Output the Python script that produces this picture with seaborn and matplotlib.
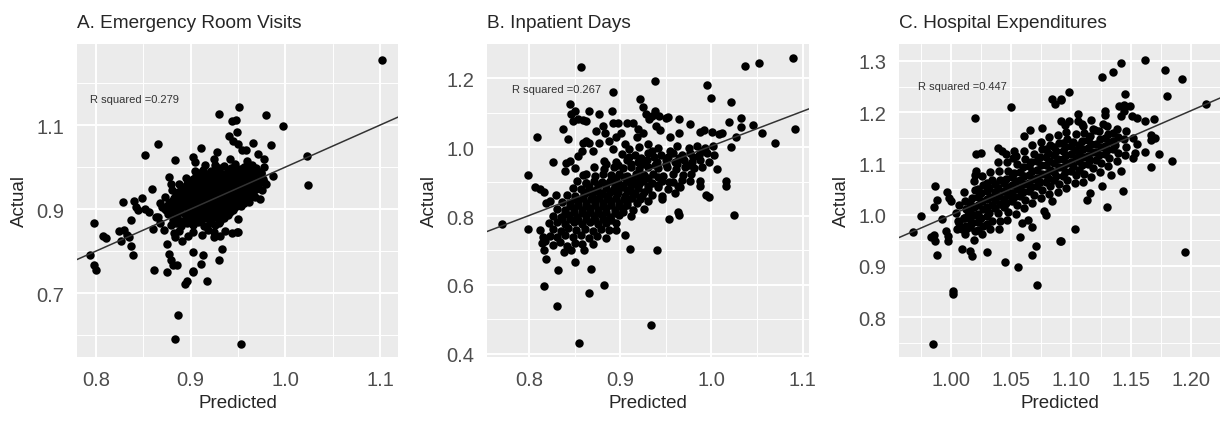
import pandas as pd
import seaborn as sns
import matplotlib.pyplot as plt
from matplotlib.ticker import FixedLocator, FormatStrFormatter

# Panel A: Emergency Room Visits (predicted, actual)
er_points = [
    (0.798, 0.867), (0.807, 0.837), (0.811, 0.832), (0.794, 0.790), (0.798, 0.766), (0.800, 0.756),
    (0.824, 0.849), (0.830, 0.851), (0.826, 0.824), (0.829, 0.917), (0.833, 0.839), (0.835, 0.833),
    (0.837, 0.813), (0.839, 0.791), (0.837, 0.873), (0.840, 0.920), (0.842, 0.905), (0.844, 0.897),
    (0.849, 0.927), (0.852, 0.901), (0.856, 0.893), (0.859, 0.947), (0.861, 0.756), (0.866, 1.055),
    (0.852, 1.029), (0.863, 0.881), (0.860, 0.853), (0.870, 0.905), (0.874, 0.897), (0.875, 0.817),
    (0.877, 0.793), (0.879, 0.778), (0.881, 0.766), (0.875, 0.750), (0.883, 1.018), (0.877, 0.976),
    (0.879, 0.960), (0.886, 0.766), (0.887, 0.649), (0.883, 0.591), (0.894, 0.722), (0.896, 0.730),
    (0.902, 0.750), (0.903, 0.797), (0.911, 0.770), (0.917, 0.728), (0.911, 1.046), (0.902, 1.024),
    (0.905, 1.012), (0.930, 1.127), (0.928, 1.036), (0.944, 1.109), (0.940, 1.075), (0.945, 1.063),
    (0.951, 1.143), (0.933, 0.805), (0.930, 0.778), (0.944, 0.843), (0.949, 0.845), (0.931, 0.837),
    (0.891, 0.825), (0.884, 0.833), (0.913, 0.790), (0.925, 0.833), (0.903, 0.753),
    (1.102, 1.256), (0.948, 1.111), (0.949, 1.083), (0.980, 1.125), (0.998, 1.099), (0.985, 1.052),
    (1.023, 1.026), (1.024, 0.958), (0.987, 0.980), (0.978, 1.020), (0.966, 1.057), (0.971, 1.032),
    (0.954, 1.040), (0.958, 1.041), (0.950, 1.056), (0.973, 0.924), (0.977, 0.964), (0.950, 0.877),
    (0.950, 0.845), (0.953, 0.579),
    # dense core
    (0.926, 1.006), (0.935, 1.003), (0.947, 1.008), (0.956, 1.001), (0.965, 1.004),
    (0.913, 0.993), (0.921, 0.990), (0.930, 0.994), (0.939, 0.989), (0.948, 0.993), (0.957, 0.990),
    (0.966, 0.994), (0.973, 0.989),
    (0.906, 0.979), (0.914, 0.976), (0.922, 0.980), (0.931, 0.977), (0.939, 0.979), (0.947, 0.976),
    (0.955, 0.980), (0.962, 0.977), (0.970, 0.979),
    (0.899, 0.966), (0.907, 0.963), (0.915, 0.967), (0.923, 0.964), (0.932, 0.966), (0.940, 0.963),
    (0.948, 0.967), (0.956, 0.964), (0.964, 0.966), (0.972, 0.962),
    (0.893, 0.953), (0.901, 0.950), (0.909, 0.954), (0.917, 0.951), (0.925, 0.953), (0.933, 0.950),
    (0.941, 0.954), (0.949, 0.951), (0.957, 0.953), (0.965, 0.950), (0.971, 0.954),
    (0.887, 0.940), (0.895, 0.937), (0.903, 0.941), (0.911, 0.938), (0.919, 0.940), (0.927, 0.937),
    (0.935, 0.941), (0.943, 0.938), (0.951, 0.940), (0.959, 0.937), (0.966, 0.941),
    (0.882, 0.927), (0.890, 0.924), (0.898, 0.928), (0.906, 0.925), (0.914, 0.927), (0.922, 0.924),
    (0.930, 0.928), (0.938, 0.925), (0.946, 0.927), (0.954, 0.924), (0.961, 0.928),
    (0.877, 0.914), (0.885, 0.911), (0.893, 0.915), (0.901, 0.912), (0.909, 0.914), (0.917, 0.911),
    (0.925, 0.915), (0.933, 0.912), (0.941, 0.914), (0.949, 0.911), (0.956, 0.915),
    (0.873, 0.901), (0.881, 0.898), (0.889, 0.902), (0.897, 0.899), (0.905, 0.901), (0.913, 0.898),
    (0.921, 0.902), (0.929, 0.899), (0.937, 0.901), (0.945, 0.898),
    (0.876, 0.888), (0.885, 0.885), (0.894, 0.889), (0.903, 0.886), (0.912, 0.888), (0.921, 0.885),
    (0.930, 0.889), (0.939, 0.886),
    (0.881, 0.875), (0.891, 0.872), (0.901, 0.876), (0.911, 0.873), (0.921, 0.875), (0.931, 0.872),
    (0.879, 0.862), (0.890, 0.859), (0.902, 0.863), (0.914, 0.860), (0.926, 0.862),
    (0.888, 0.849), (0.903, 0.846), (0.918, 0.850), (0.936, 0.847),
    (0.866, 0.882), (0.868, 0.866), (0.872, 0.850), (0.882, 0.842), (0.897, 0.836), (0.912, 0.838),
    (0.925, 0.845), (0.962, 0.918), (0.968, 0.930), (0.975, 0.945), (0.980, 0.960), (0.974, 0.985),
    (0.978, 1.000), (0.960, 1.015), (0.942, 1.020), (0.925, 1.020), (0.915, 1.005), (0.905, 0.990),
    (0.895, 0.975), (0.888, 0.960), (0.880, 0.945), (0.873, 0.930), (0.868, 0.915),
    (0.930, 0.997), (0.943, 0.998), (0.952, 0.996), (0.961, 0.998), (0.969, 0.997),
    (0.910, 0.985), (0.918, 0.984), (0.926, 0.986), (0.935, 0.984), (0.943, 0.986), (0.951, 0.984),
    (0.959, 0.986), (0.966, 0.984), (0.974, 0.986),
    (0.903, 0.972), (0.911, 0.971), (0.919, 0.973), (0.927, 0.971), (0.936, 0.973), (0.944, 0.971),
    (0.952, 0.973), (0.960, 0.971), (0.968, 0.973), (0.976, 0.971),
    (0.896, 0.959), (0.905, 0.958), (0.913, 0.960), (0.921, 0.958), (0.929, 0.960), (0.937, 0.958),
    (0.945, 0.960), (0.953, 0.958), (0.961, 0.960), (0.969, 0.958),
    (0.890, 0.946), (0.898, 0.945), (0.906, 0.947), (0.914, 0.945), (0.922, 0.947), (0.930, 0.945),
    (0.938, 0.947), (0.946, 0.945), (0.954, 0.947), (0.962, 0.945), (0.969, 0.947),
    (0.885, 0.933), (0.893, 0.932), (0.901, 0.934), (0.909, 0.932), (0.917, 0.934), (0.925, 0.932),
    (0.933, 0.934), (0.941, 0.932), (0.949, 0.934), (0.957, 0.932), (0.964, 0.934),
    (0.880, 0.920), (0.888, 0.919), (0.896, 0.921), (0.904, 0.919), (0.912, 0.921), (0.920, 0.919),
    (0.928, 0.921), (0.936, 0.919), (0.944, 0.921), (0.952, 0.919), (0.959, 0.921),
    (0.875, 0.907), (0.883, 0.906), (0.891, 0.908), (0.899, 0.906), (0.907, 0.908), (0.915, 0.906),
    (0.923, 0.908), (0.931, 0.906), (0.939, 0.908), (0.947, 0.906), (0.953, 0.908),
    (0.880, 0.894), (0.889, 0.893), (0.898, 0.895), (0.907, 0.893), (0.916, 0.895), (0.925, 0.893),
    (0.934, 0.895), (0.942, 0.893),
    (0.886, 0.881), (0.896, 0.880), (0.906, 0.882), (0.916, 0.880), (0.926, 0.882), (0.935, 0.880),
    (0.885, 0.868), (0.896, 0.867), (0.908, 0.869), (0.920, 0.867), (0.930, 0.868),
]

# Panel B: Inpatient Days
ip_points = [
    (0.857, 1.232), (0.770, 0.776), (0.799, 0.762), (0.799, 0.918), (0.809, 1.030), (0.807, 0.884),
    (0.812, 0.877), (0.817, 0.870), (0.826, 0.956), (0.819, 0.838), (0.823, 0.843), (0.812, 0.760),
    (0.815, 0.740), (0.814, 0.721), (0.817, 0.701), (0.819, 0.674), (0.817, 0.597), (0.832, 0.643),
    (0.831, 0.538), (0.851, 0.667), (0.855, 0.431), (0.866, 0.577), (0.868, 0.645), (0.882, 0.599),
    (0.911, 0.704), (0.934, 0.484), (0.845, 1.125), (0.837, 1.052), (0.843, 1.023), (0.848, 1.076),
    (0.854, 1.081), (0.859, 1.079), (0.863, 1.076), (0.850, 1.106), (0.846, 1.096), (0.866, 1.106),
    (0.877, 1.096), (0.881, 1.062), (0.874, 1.047), (0.866, 1.013), (0.859, 1.013), (0.863, 1.018),
    (0.877, 1.013), (0.892, 1.159), (0.891, 1.106), (0.892, 1.071), (0.898, 1.071), (0.901, 1.042),
    (0.888, 1.018), (0.892, 0.994), (0.922, 1.140), (0.925, 1.115), (0.908, 1.071), (0.914, 1.071),
    (0.919, 1.052), (0.925, 1.042), (0.928, 1.096), (0.932, 1.081), (0.845, 0.959), (0.841, 0.955),
    (0.859, 0.920), (0.863, 0.896), (0.830, 0.862), (0.854, 0.974),
    (1.089, 1.259), (1.037, 1.234), (1.052, 1.244), (0.995, 1.180), (1.000, 1.142), (1.022, 1.130),
    (0.938, 1.193), (1.092, 1.052), (1.070, 1.011), (1.055, 1.040), (1.046, 1.064), (1.033, 1.083),
    (1.032, 1.057), (1.019, 1.074), (1.027, 1.029), (1.021, 1.001), (1.025, 0.804), (1.016, 0.901),
    (1.016, 0.888), (1.006, 0.935), (0.994, 0.862), (0.997, 0.855), (0.988, 0.888), (1.012, 1.042),
    (1.008, 1.037), (1.001, 1.044), (0.992, 1.050), (0.987, 1.044), (0.976, 1.068), (0.965, 1.081),
    (0.950, 1.083), (0.952, 1.086), (0.943, 1.091), (0.935, 1.089), (0.938, 1.106), (0.939, 1.062),
    (0.953, 0.791), (0.963, 0.813), (0.965, 0.803), (0.940, 0.701), (0.946, 0.849), (0.960, 0.867),
    (0.954, 0.898), (0.963, 0.888), (0.966, 0.884), (0.987, 0.901), (0.976, 0.901),
    (0.818, 0.728), (0.826, 0.716), (0.834, 0.724), (0.842, 0.712), (0.850, 0.722), (0.858, 0.718),
    (0.838, 0.695), (0.846, 0.700), (0.875, 0.742), (0.885, 0.735), (0.895, 0.760), (0.905, 0.745),
    (0.870, 0.720), (0.860, 0.700),
    (0.870, 0.990), (0.883, 1.040), (0.895, 1.030), (0.905, 1.010), (0.918, 1.030), (0.930, 1.010),
    (0.944, 1.050), (0.955, 1.030), (0.965, 1.040), (0.858, 0.990), (0.850, 0.940), (0.840, 0.930),
    # dense band
    (0.823, 0.742), (0.831, 0.738), (0.839, 0.745), (0.848, 0.739), (0.857, 0.744), (0.866, 0.737),
    (0.826, 0.761), (0.835, 0.757), (0.843, 0.764), (0.852, 0.758), (0.861, 0.763), (0.870, 0.756),
    (0.879, 0.762), (0.888, 0.758),
    (0.822, 0.779), (0.831, 0.783), (0.840, 0.777), (0.849, 0.782), (0.858, 0.778), (0.867, 0.784),
    (0.876, 0.777), (0.885, 0.781), (0.895, 0.779),
    (0.826, 0.801), (0.835, 0.797), (0.844, 0.803), (0.853, 0.798), (0.862, 0.804), (0.871, 0.799),
    (0.880, 0.802), (0.889, 0.797), (0.899, 0.803), (0.912, 0.799),
    (0.831, 0.821), (0.840, 0.817), (0.849, 0.823), (0.858, 0.818), (0.867, 0.822), (0.876, 0.817),
    (0.885, 0.823), (0.894, 0.818), (0.903, 0.822), (0.914, 0.817), (0.926, 0.821),
    (0.836, 0.841), (0.845, 0.837), (0.854, 0.843), (0.863, 0.838), (0.872, 0.842), (0.881, 0.837),
    (0.890, 0.843), (0.899, 0.838), (0.908, 0.842), (0.918, 0.837), (0.930, 0.843),
    (0.842, 0.861), (0.851, 0.857), (0.860, 0.863), (0.869, 0.858), (0.878, 0.862), (0.887, 0.857),
    (0.896, 0.863), (0.905, 0.858), (0.914, 0.862), (0.924, 0.857), (0.935, 0.862), (0.946, 0.858),
    (0.848, 0.881), (0.857, 0.877), (0.866, 0.883), (0.875, 0.878), (0.884, 0.882), (0.893, 0.877),
    (0.902, 0.883), (0.911, 0.878), (0.920, 0.882), (0.930, 0.877), (0.941, 0.883), (0.952, 0.879),
    (0.853, 0.901), (0.862, 0.897), (0.871, 0.903), (0.880, 0.898), (0.889, 0.902), (0.898, 0.897),
    (0.907, 0.903), (0.916, 0.898), (0.925, 0.902), (0.935, 0.897), (0.946, 0.903), (0.958, 0.899),
    (0.968, 0.904),
    (0.862, 0.921), (0.872, 0.917), (0.881, 0.923), (0.890, 0.918), (0.899, 0.922), (0.908, 0.917),
    (0.917, 0.923), (0.926, 0.918), (0.936, 0.922), (0.947, 0.917), (0.958, 0.923), (0.969, 0.918),
    (0.978, 0.922),
    (0.871, 0.941), (0.882, 0.937), (0.893, 0.943), (0.903, 0.938), (0.912, 0.942), (0.921, 0.937),
    (0.931, 0.943), (0.941, 0.938), (0.951, 0.942), (0.961, 0.937), (0.971, 0.943), (0.981, 0.938),
    (0.990, 0.942),
    (0.882, 0.961), (0.895, 0.957), (0.908, 0.963), (0.919, 0.958), (0.929, 0.962), (0.940, 0.957),
    (0.950, 0.963), (0.960, 0.958), (0.970, 0.962), (0.979, 0.957), (0.988, 0.963), (0.997, 0.958),
    (0.902, 0.981), (0.916, 0.977), (0.931, 0.983), (0.945, 0.978), (0.958, 0.982), (0.968, 0.977),
    (0.977, 0.983), (0.986, 0.978), (0.995, 0.982), (1.003, 0.977),
    (0.921, 1.001), (0.941, 0.997), (0.962, 1.003), (0.975, 0.998), (0.984, 1.002), (0.993, 0.997),
    (1.002, 1.003),
    (0.836, 0.790), (0.845, 0.792), (0.854, 0.788), (0.863, 0.791), (0.872, 0.789), (0.881, 0.792),
    (0.890, 0.788),
    (0.840, 0.810), (0.849, 0.812), (0.858, 0.808), (0.867, 0.811), (0.876, 0.809), (0.885, 0.812),
    (0.894, 0.808), (0.903, 0.811),
    (0.845, 0.830), (0.854, 0.832), (0.863, 0.828), (0.872, 0.831), (0.881, 0.829), (0.890, 0.832),
    (0.899, 0.828), (0.908, 0.831),
    (0.850, 0.850), (0.859, 0.852), (0.868, 0.848), (0.877, 0.851), (0.886, 0.849), (0.895, 0.852),
    (0.904, 0.848), (0.913, 0.851), (0.922, 0.849),
    (0.862, 0.870), (0.871, 0.872), (0.880, 0.868), (0.889, 0.871), (0.898, 0.869), (0.907, 0.872),
    (0.916, 0.868), (0.926, 0.871),
    (0.876, 0.890), (0.885, 0.892), (0.894, 0.888), (0.903, 0.891), (0.912, 0.889), (0.921, 0.892),
    (0.931, 0.888), (0.941, 0.891),
    (0.895, 0.910), (0.904, 0.912), (0.913, 0.908), (0.922, 0.911), (0.931, 0.909), (0.941, 0.912),
    (0.885, 0.950), (0.898, 0.948), (0.912, 0.952), (0.925, 0.950), (0.938, 0.948), (0.950, 0.952),
    (0.962, 0.950), (0.975, 0.948), (0.910, 0.970), (0.923, 0.968), (0.937, 0.972), (0.952, 0.970),
    (0.965, 0.968), (0.980, 0.972), (0.990, 0.990), (0.955, 0.990), (0.935, 0.990), (0.910, 0.995),
]

# Panel C: Hospital Expenditures
he_points = [
    (0.985, 0.747), (1.002, 0.850), (1.002, 0.845), (0.969, 0.966), (0.975, 0.997), (0.987, 1.055),
    (0.986, 1.015), (0.989, 1.029), (0.997, 1.044), (0.999, 1.033), (1.000, 1.026), (0.993, 0.992),
    (0.984, 0.956), (0.986, 0.961), (0.987, 0.948), (0.989, 0.922), (0.996, 0.967), (0.998, 0.958),
    (0.998, 0.948), (1.007, 0.984), (1.011, 0.993), (1.014, 1.000), (1.009, 0.932), (1.016, 0.928),
    (1.018, 0.919), (1.009, 0.972), (1.013, 0.971), (1.020, 1.189), (1.021, 1.118), (1.025, 1.120),
    (1.021, 1.085), (1.020, 1.078), (1.030, 0.927), (1.045, 0.907), (1.056, 0.897), (1.050, 1.210),
    (1.058, 0.957), (1.068, 0.975), (1.072, 0.863), (1.068, 0.922), (1.071, 0.938), (1.059, 0.984),
    (1.064, 0.990), (1.039, 1.130), (1.043, 1.124), (1.053, 1.124), (1.052, 1.111), (1.061, 1.153),
    (1.076, 1.169), (1.084, 1.225), (1.087, 1.215), (1.092, 1.225), (1.092, 1.182), (1.084, 1.026),
    (1.078, 1.007), (1.079, 1.000), (1.091, 0.948), (1.066, 1.166),
    (1.162, 1.301), (1.142, 1.295), (1.135, 1.279), (1.126, 1.269), (1.178, 1.282), (1.192, 1.265),
    (1.180, 1.231), (1.212, 1.215), (1.098, 1.239), (1.092, 1.223), (1.145, 1.236), (1.144, 1.213),
    (1.144, 1.202), (1.149, 1.212), (1.151, 1.193), (1.128, 1.203), (1.128, 1.195), (1.106, 1.196),
    (1.140, 1.212), (1.142, 1.193), (1.155, 1.189), (1.162, 1.182), (1.169, 1.187), (1.167, 1.156),
    (1.170, 1.150), (1.167, 1.146), (1.162, 1.122), (1.173, 1.118), (1.184, 1.104), (1.167, 1.092),
    (1.152, 1.111), (1.153, 1.120), (1.155, 1.137), (1.152, 1.150), (1.142, 1.085), (1.143, 1.047),
    (1.130, 1.015), (1.133, 1.078), (1.126, 1.055), (1.116, 1.042), (1.113, 1.029), (1.103, 0.971),
    (1.092, 0.948), (1.195, 0.926), (1.095, 1.175), (1.098, 1.182), (1.106, 1.182), (1.117, 1.184),
    (1.127, 1.176), (1.109, 1.176), (1.120, 1.166),
    # dense band
    (1.005, 0.972), (1.006, 0.988), (1.004, 1.004), (1.007, 1.019),
    (1.012, 0.962), (1.013, 0.978), (1.011, 0.994), (1.013, 1.010), (1.012, 1.027), (1.011, 1.044),
    (1.019, 0.951), (1.020, 0.967), (1.018, 0.983), (1.020, 0.999), (1.019, 1.015), (1.018, 1.032),
    (1.020, 1.048), (1.019, 1.065),
    (1.026, 0.962), (1.027, 0.978), (1.025, 0.994), (1.027, 1.010), (1.026, 1.026), (1.025, 1.042),
    (1.027, 1.058), (1.026, 1.075),
    (1.033, 0.971), (1.034, 0.987), (1.032, 1.003), (1.034, 1.019), (1.033, 1.035), (1.032, 1.051),
    (1.034, 1.067), (1.033, 1.084),
    (1.040, 0.972), (1.041, 0.988), (1.039, 1.004), (1.041, 1.020), (1.040, 1.036), (1.039, 1.052),
    (1.041, 1.068), (1.040, 1.085), (1.039, 1.102),
    (1.047, 0.990), (1.048, 1.006), (1.046, 1.022), (1.048, 1.038), (1.047, 1.054), (1.046, 1.070),
    (1.048, 1.086), (1.047, 1.102), (1.046, 1.118),
    (1.054, 1.002), (1.055, 1.018), (1.053, 1.034), (1.055, 1.050), (1.054, 1.066), (1.053, 1.082),
    (1.055, 1.098), (1.054, 1.114),
    (1.061, 1.012), (1.062, 1.028), (1.060, 1.044), (1.062, 1.060), (1.061, 1.076), (1.060, 1.092),
    (1.062, 1.108), (1.061, 1.125),
    (1.068, 1.022), (1.069, 1.038), (1.067, 1.054), (1.069, 1.070), (1.068, 1.086), (1.067, 1.102),
    (1.069, 1.118), (1.068, 1.135),
    (1.075, 1.032), (1.076, 1.048), (1.074, 1.064), (1.076, 1.080), (1.075, 1.096), (1.074, 1.112),
    (1.076, 1.128), (1.075, 1.142),
    (1.082, 1.040), (1.083, 1.056), (1.081, 1.072), (1.083, 1.088), (1.082, 1.104), (1.081, 1.120),
    (1.083, 1.136), (1.082, 1.151),
    (1.089, 1.044), (1.090, 1.060), (1.088, 1.076), (1.090, 1.092), (1.089, 1.108), (1.088, 1.124),
    (1.090, 1.140), (1.089, 1.156),
    (1.096, 1.052), (1.097, 1.068), (1.095, 1.084), (1.097, 1.100), (1.096, 1.116), (1.095, 1.132),
    (1.097, 1.148), (1.096, 1.162),
    (1.103, 1.062), (1.104, 1.078), (1.102, 1.094), (1.104, 1.110), (1.103, 1.126), (1.102, 1.142),
    (1.104, 1.158),
    (1.110, 1.064), (1.111, 1.080), (1.109, 1.096), (1.111, 1.112), (1.110, 1.128), (1.109, 1.144),
    (1.111, 1.160), (1.110, 1.172),
    (1.117, 1.074), (1.118, 1.090), (1.116, 1.106), (1.118, 1.122), (1.117, 1.138), (1.116, 1.154),
    (1.118, 1.168),
    (1.124, 1.084), (1.125, 1.100), (1.123, 1.116), (1.125, 1.132), (1.124, 1.148), (1.123, 1.164),
    (1.131, 1.094), (1.132, 1.110), (1.130, 1.126), (1.132, 1.142), (1.131, 1.158), (1.130, 1.172),
    (1.138, 1.104), (1.139, 1.120), (1.137, 1.136), (1.139, 1.152), (1.138, 1.168),
    (1.145, 1.116), (1.146, 1.132), (1.144, 1.148), (1.146, 1.164),
    (1.037, 1.028), (1.037, 1.044), (1.044, 1.030), (1.044, 1.046), (1.044, 1.062), (1.051, 1.042),
    (1.051, 1.058), (1.051, 1.074), (1.058, 1.052), (1.058, 1.068), (1.058, 1.084), (1.065, 1.062),
    (1.065, 1.078), (1.065, 1.094), (1.072, 1.072), (1.072, 1.088), (1.072, 1.104), (1.079, 1.080),
    (1.079, 1.096), (1.079, 1.112), (1.086, 1.084), (1.086, 1.100), (1.086, 1.116), (1.093, 1.092),
    (1.093, 1.108), (1.093, 1.124), (1.100, 1.102), (1.100, 1.118), (1.107, 1.104), (1.107, 1.120),
    (1.107, 1.136), (1.114, 1.114), (1.114, 1.130),
    (1.016, 0.975), (1.016, 0.991), (1.016, 1.007), (1.016, 1.023), (1.023, 0.970), (1.023, 0.986),
    (1.023, 1.002), (1.023, 1.018), (1.023, 1.034), (1.023, 1.050), (1.030, 0.982), (1.030, 0.998),
    (1.030, 1.014), (1.030, 1.030), (1.030, 1.046), (1.030, 1.062), (1.037, 1.012), (1.037, 1.060),
    (1.044, 1.014), (1.051, 1.026), (1.058, 1.036), (1.065, 1.046), (1.072, 1.056), (1.079, 1.064),
    (1.086, 1.068), (1.093, 1.076), (1.100, 1.086), (1.107, 1.088), (1.114, 1.098), (1.121, 1.106),
    (1.121, 1.122), (1.121, 1.138), (1.128, 1.118), (1.128, 1.134), (1.128, 1.150), (1.135, 1.128),
    (1.135, 1.144), (1.135, 1.160), (1.100, 1.134), (1.093, 1.140), (1.086, 1.132), (1.079, 1.128),
    (1.114, 1.146),
]

titles = ["A. Emergency Room Visits", "B. Inpatient Days", "C. Hospital Expenditures"]
r_squared = ["R squared =0.279", "R squared =0.267", "R squared =0.447"]
r_text_pos = [(0.841, 1.162), (0.830, 1.168), (1.010, 1.251)]
fit_intercept = [0.0, -0.005, -0.021]
fit_slope = [1.0, 1.008, 1.02]

x_limits = [(0.78, 1.119), (0.754, 1.107), (0.957, 1.224)]
y_limits = [(0.548, 1.293), (0.391, 1.299), (0.722, 1.333)]
x_major = [[0.8, 0.9, 1.0, 1.1], [0.8, 0.9, 1.0, 1.1], [1.0, 1.05, 1.1, 1.15, 1.2]]
x_minor = [[0.85, 0.95, 1.05], [0.85, 0.95, 1.05], [0.975, 1.025, 1.075, 1.125, 1.175]]
y_major = [[0.7, 0.9, 1.1], [0.4, 0.6, 0.8, 1.0, 1.2], [0.8, 0.9, 1.0, 1.1, 1.2, 1.3]]
y_minor = [[0.6, 0.8, 1.0, 1.2], [0.5, 0.7, 0.9, 1.1], [0.75, 0.85, 0.95, 1.05, 1.15, 1.25]]
x_fmt = ["%.1f", "%.1f", "%.2f"]

sns.set_theme(style="darkgrid", rc={
    "axes.facecolor": "#EBEBEB",
    "grid.color": "white",
    "xtick.color": "#333333",
    "ytick.color": "#333333",
    "xtick.labelcolor": "#4D4D4D",
    "ytick.labelcolor": "#4D4D4D",
})
plt.rcParams["font.family"] = ["Liberation Sans", "DejaVu Sans"]

fig = plt.figure(figsize=(12.25, 4.27), dpi=100)
lefts = [77 / 1225, 487 / 1225, 899 / 1225]
widths = [321 / 1225, 322 / 1225, 321 / 1225]

for i, pts in enumerate([er_points, ip_points, he_points]):
    ax = fig.add_axes([lefts[i], 1 - 358 / 427, widths[i], 313 / 427])
    df = pd.DataFrame(pts, columns=["Predicted", "Actual"])
    ax.set_xlim(*x_limits[i])
    ax.set_ylim(*y_limits[i])
    ax.xaxis.set_major_locator(FixedLocator(x_major[i]))
    ax.xaxis.set_minor_locator(FixedLocator(x_minor[i]))
    ax.yaxis.set_major_locator(FixedLocator(y_major[i]))
    ax.yaxis.set_minor_locator(FixedLocator(y_minor[i]))
    ax.xaxis.set_major_formatter(FormatStrFormatter(x_fmt[i]))
    ax.yaxis.set_major_formatter(FormatStrFormatter("%.1f"))
    ax.grid(which="major", color="white", lw=1.4)
    ax.grid(which="minor", color="white", lw=0.7)
    ax.set_axisbelow(True)

    sns.scatterplot(data=df, x="Predicted", y="Actual", ax=ax, color="black",
                    s=37, linewidth=0, zorder=3)
    ax.axline((0, fit_intercept[i]), slope=fit_slope[i], color="#333333", lw=1.1, zorder=4)
    ax.text(*r_text_pos[i], r_squared[i], fontsize=8, color="#333333", ha="center", va="center")

    ax.tick_params(which="major", length=5, width=1, pad=4, labelsize=14.5)
    ax.tick_params(which="minor", length=0)
    for s in ax.spines.values():
        s.set_visible(False)
    ax.set_title(titles[i], loc="left", fontsize=13.7, pad=12)
    ax.set_xlabel("Predicted", fontsize=13.5, labelpad=4)
    ax.set_ylabel("Actual", fontsize=13.5, labelpad=6)

plt.savefig("out.png", dpi=100)
plt.close()
